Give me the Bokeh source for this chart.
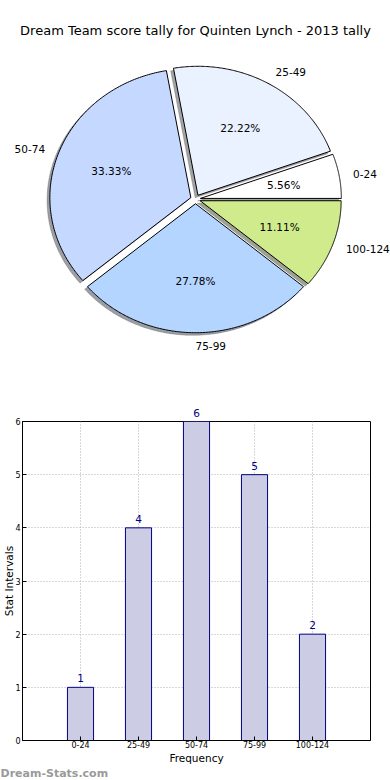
import numpy as np
from bokeh.plotting import figure
from bokeh.models import (ColumnDataSource, Range1d, Label, LabelSet, FixedTicker,
                          LinearAxis, Title)
from bokeh.layouts import column
from bokeh.embed import file_html
from bokeh.resources import INLINE
from bokeh.core.properties import value, field

# ---------------- data ----------------
title_text = "Dream Team score tally for Quinten Lynch - 2013 tally"
categories = ["0-24", "25-49", "50-74", "75-99", "100-124"]
counts = [1, 4, 6, 5, 2]
pie_colors = ["#FFFFFF", "#EAF1FF", "#C5D8FF", "#B4D5FF", "#CFEB8C"]
x_label = "Frequency"
y_label = "Stat Intervals"
watermark = "Dream-Stats.com"

FONT = "DejaVu Sans"
W = 390
H_PIE = 400
H_BAR = 380

# ---------------- pie ----------------
EXPLODE = 0.035
SHADOW = 0.02
RX, RY = 141.0, 129.0          # px per unit
CXF, CYF = 195.0, 198.7        # centre in figure px (from left / top)

vals = np.array(counts, dtype=float)
fracs = vals / vals.sum()
th2 = np.cumsum(fracs) * 2 * np.pi
th1 = th2 - fracs * 2 * np.pi
mid = (th1 + th2) / 2
ox = EXPLODE * np.cos(mid)
oy = EXPLODE * np.sin(mid)

xs, ys = [], []
for a, b, cx, cy in zip(th1, th2, ox, oy):
    t = np.linspace(a, b, 160)
    xs.append(np.concatenate([[cx], cx + np.cos(t), [cx]]))
    ys.append(np.concatenate([[cy], cy + np.sin(t), [cy]]))

def shade(h):
    h = h.lstrip("#")
    r, g, b = (int(h[i:i + 2], 16) for i in (0, 2, 4))
    return "#%02x%02x%02x" % (int(r * 0.3), int(g * 0.3), int(b * 0.3))

pie_src = ColumnDataSource(dict(xs=xs, ys=ys, color=pie_colors))
shadow_src = ColumnDataSource(dict(
    xs=[x - SHADOW for x in xs], ys=[y - SHADOW for y in ys],
    color=[shade(c) for c in pie_colors]))

pie = figure(width=W, height=H_PIE, output_backend="svg", toolbar_location=None,
             x_range=Range1d(-CXF / RX, (W - CXF) / RX),
             y_range=Range1d(-(H_PIE - CYF) / RY, CYF / RY),
             x_axis_type=None, y_axis_type=None,
             min_border=0, min_border_left=0, min_border_right=0,
             min_border_top=0, min_border_bottom=0)
pie.frame_align = False
pie.grid.grid_line_color = None
pie.outline_line_color = None
pie.background_fill_color = "white"
pie.border_fill_color = "white"

pie.patches("xs", "ys", source=shadow_src, fill_color="color", fill_alpha=0.5,
            line_color="color", line_alpha=0.5, line_width=0.5)
pie.patches("xs", "ys", source=pie_src, fill_color="color", line_color="black",
            line_width=1, line_join="miter")

cosm = np.cos(mid)
lab_src = ColumnDataSource(dict(
    x=ox + 1.1 * cosm, y=oy + 1.1 * np.sin(mid), text=categories,
    align=["left" if np.round(c, 6) >= 0 else "right" for c in cosm]))
pie.text(x="x", y="y", text="text", source=lab_src, text_align=field("align"),
         text_baseline="middle", text_font=value(FONT), text_font_size="10.5px",
         text_color="black")

pct_src = ColumnDataSource(dict(
    x=ox + 0.6 * cosm, y=oy + 0.6 * np.sin(mid),
    text=["%.2f%%" % (f * 100) for f in fracs]))
pie.text(x="x", y="y", text="text", source=pct_src, text_align="center",
         text_baseline="middle", text_font=value(FONT), text_font_size="10.5px",
         text_color="black")

pie.add_layout(Label(x=W / 2, y=H_PIE - 30, x_units="screen", y_units="screen",
                     text=title_text, text_align="center", text_baseline="middle",
                     text_font=FONT, text_font_size="13px", text_color="black"))

# ---------------- bar ----------------
n = len(categories)
pos = list(range(1, n + 1))
ymax = max(counts)

bar = figure(width=W, height=H_BAR, output_backend="svg", toolbar_location=None,
             x_range=Range1d(0, n + 1), y_range=Range1d(0, ymax),
             min_border=0, min_border_left=19, min_border_right=20,
             min_border_top=21, min_border_bottom=40)
bar.frame_align = False
bar.background_fill_color = "white"
bar.border_fill_color = "white"
bar.outline_line_color = "black"
bar.outline_line_width = 1

bar_src = ColumnDataSource(dict(x=pos, top=counts))
bar.vbar(x="x", top="top", width=0.45, source=bar_src, fill_color="#CCCCE5",
         line_color="#000080", line_width=1)

bar.xaxis.ticker = FixedTicker(ticks=pos)
bar.xaxis.major_label_overrides = {p: c for p, c in zip(pos, categories)}
bar.yaxis.ticker = FixedTicker(ticks=list(range(0, ymax + 1)))
for ax in (bar.xaxis, bar.yaxis):
    ax.major_tick_in = 4
    ax.major_tick_out = 0
    ax.minor_tick_line_color = None
    ax.axis_line_color = "black"
    ax.major_tick_line_color = "black"
    ax.major_label_text_font = FONT
    ax.major_label_text_font_size = "8px"
    ax.major_label_text_color = "black"
    ax.axis_label_text_font = FONT
    ax.axis_label_text_font_size = "10.5px"
    ax.axis_label_text_font_style = "normal"
    ax.axis_label_text_color = "black"
bar.xaxis.axis_label = x_label
bar.xaxis.major_label_standoff = 0
bar.xaxis.axis_label_standoff = 1
bar.yaxis.axis_label = y_label
bar.yaxis.major_label_standoff = 2
bar.yaxis.axis_label_standoff = -3

bar.grid.grid_line_color = "#b0b0b0"
bar.grid.grid_line_dash = "1 2"
bar.grid.grid_line_width = 1

# value labels: inside the frame -> LabelSet; bars reaching the top -> top axis labels
inside = [(p, c) for p, c in zip(pos, counts) if c < ymax]
in_src = ColumnDataSource(dict(x=[p for p, _ in inside], y=[c for _, c in inside],
                               lbl=[str(c) for _, c in inside]))
bar.add_layout(LabelSet(x="x", y="y", text="lbl", source=in_src,
                        text_align="center", text_baseline="bottom", y_offset=5,
                        text_font=value(FONT), text_font_size="10.5px",
                        text_color="#000080"))
top_pos = [p for p, c in zip(pos, counts) if c >= ymax]
top_ax = LinearAxis(ticker=FixedTicker(ticks=top_pos),
                    major_label_overrides={p: str(c) for p, c in zip(pos, counts) if c >= ymax},
                    major_label_standoff=5, major_tick_in=0, major_tick_out=0,
                    minor_tick_line_color=None, axis_line_color=None,
                    major_label_text_font=FONT, major_label_text_font_size="10.5px",
                    major_label_text_color="#000080")
bar.add_layout(top_ax, "above")

bar.add_layout(Title(text=watermark, align="left", offset=-22, standoff=-4,
                     text_font=FONT, text_font_size="11px", text_font_style="bold",
                     text_color="#9a9a9a"), "below")

layout = column(pie, bar)
open("out.html", "w").write(file_html(layout, INLINE))
